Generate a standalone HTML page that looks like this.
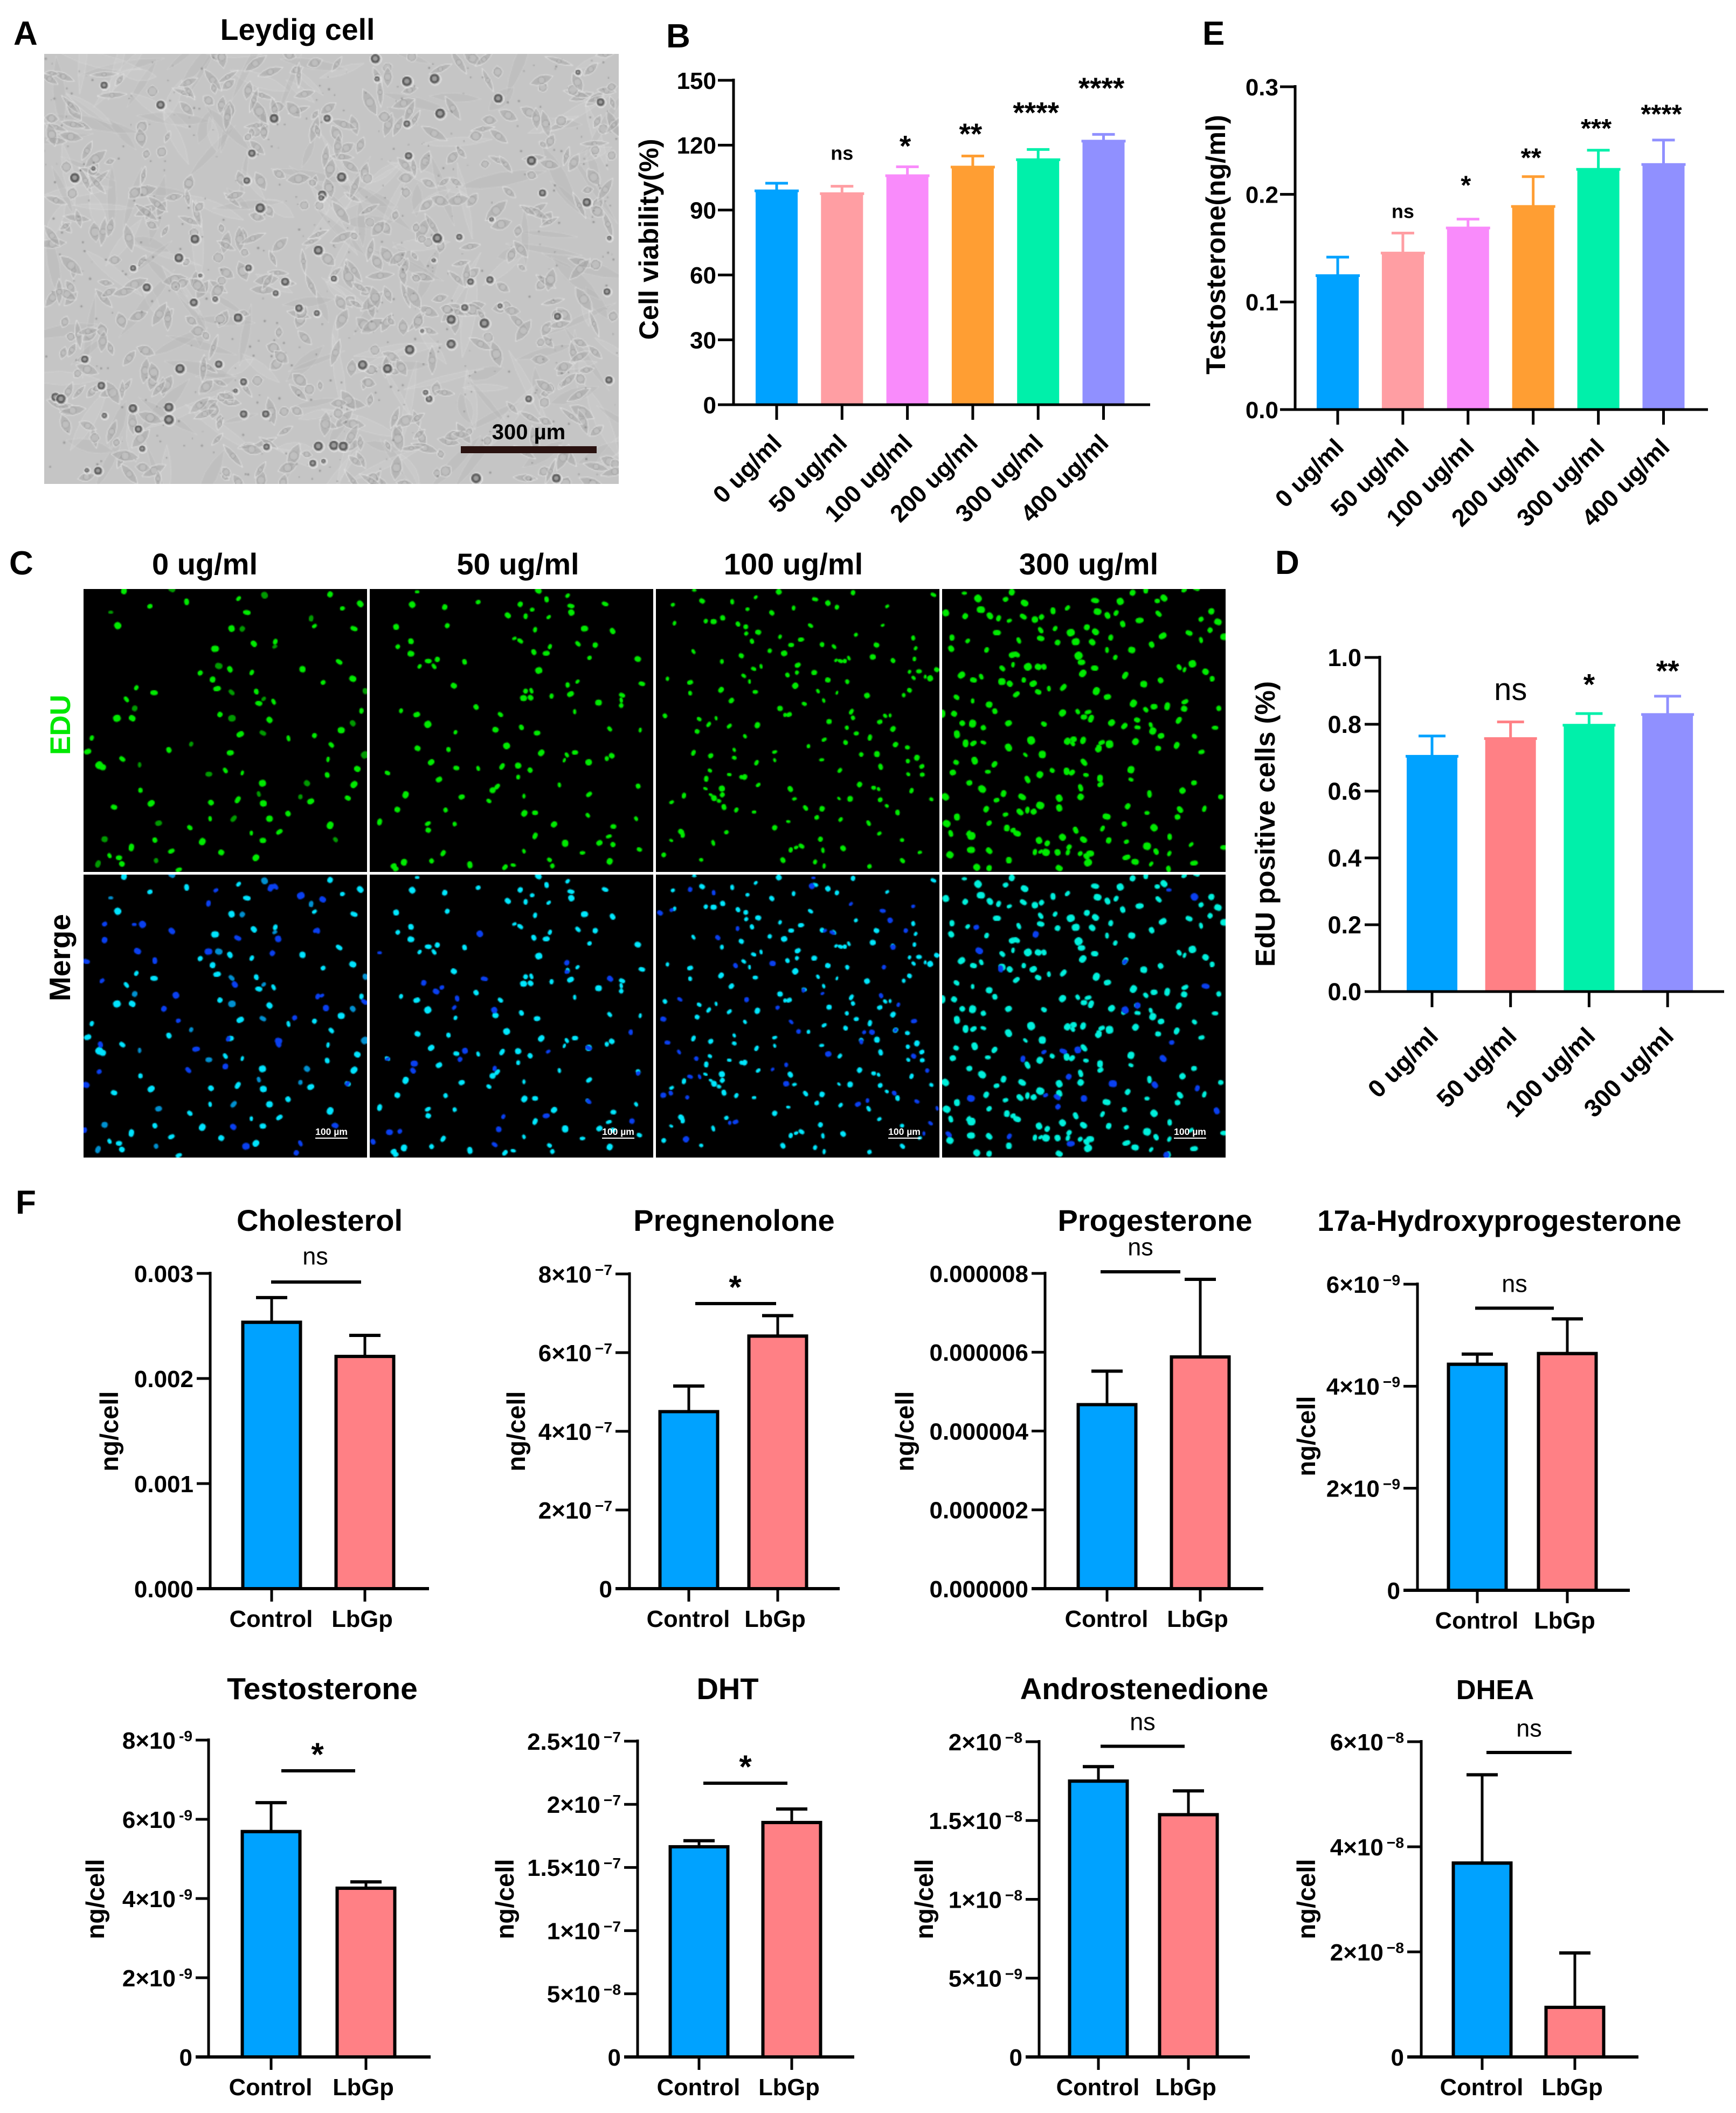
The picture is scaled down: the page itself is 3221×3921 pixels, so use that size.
<!DOCTYPE html>
<html lang="en">
<head>
<meta charset="utf-8">
<title>Leydig cell figure</title>
<style>
html,body{margin:0;padding:0;background:#fff;}
#page{position:relative;width:3221px;height:3921px;overflow:hidden;background:#fff;}
canvas{position:absolute;display:block;}
canvas.fl{width:526px;height:525px;}
svg{position:absolute;left:0;top:0;}
text{font-family:"Liberation Sans",Arial,sans-serif;font-weight:700;fill:#000;}
</style>
</head>
<body>
<div id="page">
<canvas id="micrograph" style="left:82px;top:100px;width:1066px;height:798px" width="533" height="399"></canvas>
<canvas class="fl" id="edu0" style="left:155px;top:1093px" width="263" height="263"></canvas>
<canvas class="fl" id="edu1" style="left:686px;top:1093px" width="263" height="263"></canvas>
<canvas class="fl" id="edu2" style="left:1217px;top:1093px" width="263" height="263"></canvas>
<canvas class="fl" id="edu3" style="left:1748px;top:1093px" width="263" height="263"></canvas>
<canvas class="fl" id="mer0" style="left:155px;top:1623px" width="263" height="263"></canvas>
<canvas class="fl" id="mer1" style="left:686px;top:1623px" width="263" height="263"></canvas>
<canvas class="fl" id="mer2" style="left:1217px;top:1623px" width="263" height="263"></canvas>
<canvas class="fl" id="mer3" style="left:1748px;top:1623px" width="263" height="263"></canvas>
<svg id="chart" width="3221" height="3921" viewBox="0 0 3221 3921" xmlns="http://www.w3.org/2000/svg">
  <g font-size="62">
    <text x="25" y="83">A</text>
    <text x="1236" y="88">B</text>
    <text x="17" y="1066">C</text>
    <text x="2366" y="1065">D</text>
    <text x="2231" y="83">E</text>
    <text x="29" y="2252">F</text>
  </g>
  <text x="552" y="74" font-size="55.5" text-anchor="middle">Leydig cell</text>
  <rect x="855" y="828" width="252" height="13" fill="#2a1210"/>
  <text x="981" y="815" font-size="40" text-anchor="middle">300 µm</text>
  <g font-size="56" text-anchor="middle">
    <text x="380" y="1066">0 ug/ml</text>
    <text x="961" y="1066">50 ug/ml</text>
    <text x="1472" y="1066">100 ug/ml</text>
    <text x="2020" y="1066">300 ug/ml</text>
  </g>
  <text transform="translate(130,1345) rotate(-90)" font-size="53" text-anchor="middle" style="fill:#00e800">EDU</text>
  <text transform="translate(130,1777) rotate(-90)" font-size="55" text-anchor="middle">Merge</text>
  <g fill="#fff">
    <rect x="585" y="2111" width="60" height="2"/>
    <rect x="1117" y="2111" width="60" height="2"/>
    <rect x="1648" y="2111" width="60" height="2"/>
    <rect x="2178" y="2111" width="60" height="2"/>
  </g>
  <g font-size="17.5" text-anchor="middle">
    <text x="615" y="2106" style="fill:#fff">100 µm</text>
    <text x="1147" y="2106" style="fill:#fff">100 µm</text>
    <text x="1678" y="2106" style="fill:#fff">100 µm</text>
    <text x="2208" y="2106" style="fill:#fff">100 µm</text>
  </g>
</svg>
</div>
<script>
/* ---------- chart data ---------- */
const doseCategories = ['0 ug/ml','50 ug/ml','100 ug/ml','200 ug/ml','300 ug/ml','400 ug/ml'];
const doseColors = ['#00a2ff','#ff9ea3','#f98bfb','#ff9e33','#00f0aa','#9090ff'];

const viabilityMeans = [99, 97.7, 106, 110, 113.4, 122];
const viabilityUpper = [102.4, 101, 110, 115, 118, 125];
const viabilityTicks = [0, 30, 60, 90, 120, 150];
const viabilityTickLabels = ['0','30','60','90','120','150'];
const viabilitySig = ['', 'ns', '*', '**', '****', '****'];
const viabilitySigLevels = [0, 115.6, 121.6, 127.2, 137, 148.3];

const testoDoseMeans = [0.1247, 0.1457, 0.169, 0.189, 0.2235, 0.228];
const testoDoseUpper = [0.1417, 0.164, 0.177, 0.2165, 0.241, 0.2505];
const testoDoseTicks = [0, 0.1, 0.2, 0.3];
const testoDoseTickLabels = ['0.0','0.1','0.2','0.3'];
const testoDoseSig = ['', 'ns', '*', '**', '***', '****'];
const testoDoseSigLevels = [0, 0.1828, 0.2118, 0.2373, 0.2646, 0.278];

const eduCategories = ['0 ug/ml','50 ug/ml','100 ug/ml','300 ug/ml'];
const eduColors = ['#00a2ff','#ff8085','#00f0aa','#9090ff'];
const eduMeans = [0.705, 0.758, 0.798, 0.83];
const eduUpper = [0.765, 0.807, 0.832, 0.884];
const eduTicks = [0, 0.2, 0.4, 0.6, 0.8, 1.0];
const eduTickLabels = ['0.0','0.2','0.4','0.6','0.8','1.0'];
const eduSig = ['', 'ns', '*', '**'];
const eduSigLevels = [0, 0.897, 0.932, 0.9726];

const groupCategories = ['Control','LbGp'];
const groupColors = ['#00a2ff','#ff8085'];

const cholesterolMeans = [0.002535, 0.00221];
const cholesterolUpper = [0.00277, 0.00241];
const cholesterolTicks = [0, 0.001, 0.002, 0.003];
const cholesterolTickLabels = ['0.000','0.001','0.002','0.003'];

const pregnenoloneMeans = [4.5e-7, 6.42e-7];
const pregnenoloneUpper = [5.15e-7, 6.94e-7];
const pregnenoloneTicks = [0, 2e-7, 4e-7, 6e-7, 8e-7];
const pregnenoloneTickLabels = ['0','2×10^−7','4×10^−7','6×10^−7','8×10^−7'];

const progesteroneMeans = [4.67e-6, 5.88e-6];
const progesteroneUpper = [5.52e-6, 7.85e-6];
const progesteroneTicks = [0, 2e-6, 4e-6, 6e-6, 8e-6];
const progesteroneTickLabels = ['0.000000','0.000002','0.000004','0.000006','0.000008'];

const hydroxyMeans = [4.43e-9, 4.64e-9];
const hydroxyUpper = [4.63e-9, 5.32e-9];
const hydroxyTicks = [0, 2e-9, 4e-9, 6e-9];
const hydroxyTickLabels = ['0','2×10^−9','4×10^−9','6×10^−9'];

const testosteroneMeans = [5.69e-9, 4.26e-9];
const testosteroneUpper = [6.42e-9, 4.42e-9];
const testosteroneTicks = [0, 2e-9, 4e-9, 6e-9, 8e-9];
const testosteroneTickLabels = ['0','2×10^-9','4×10^-9','6×10^-9','8×10^-9'];

const dhtMeans = [1.664e-7, 1.856e-7];
const dhtUpper = [1.712e-7, 1.963e-7];
const dhtTicks = [0, 5e-8, 1e-7, 1.5e-7, 2e-7, 2.5e-7];
const dhtTickLabels = ['0','5×10^−8','1×10^−7','1.5×10^−7','2×10^−7','2.5×10^−7'];

const androMeans = [1.75e-8, 1.537e-8];
const androUpper = [1.842e-8, 1.688e-8];
const androTicks = [0, 5e-9, 1e-8, 1.5e-8, 2e-8];
const androTickLabels = ['0','5×10^−9','1×10^−8','1.5×10^−8','2×10^−8'];

const dheaMeans = [3.69e-8, 0.944e-8];
const dheaUpper = [5.37e-8, 1.98e-8];
const dheaTicks = [0, 2e-8, 4e-8, 6e-8];
const dheaTickLabels = ['0','2×10^−8','4×10^−8','6×10^−8'];

/* ---------- svg helpers ---------- */
const svg = document.getElementById('chart');
const NS = 'http://www.w3.org/2000/svg';
function mk(parent, tag, attrs, name) {
  const el = document.createElementNS(NS, tag);
  for (const k in attrs) el.setAttribute(k, attrs[k]);
  
  
  parent.appendChild(el);
  return el;
}
function tickText(parent, x, y, label, fs, name) {
  const t = mk(parent, 'text', {x: x, y: y + fs * 0.36, 'font-size': fs, 'text-anchor': 'end'}, name);
  const parts = label.split('^');
  t.appendChild(document.createTextNode(parts[0]));
  if (parts[1]) {
    const s = document.createElementNS(NS, 'tspan');
    s.setAttribute('font-size', fs * 0.64);
    s.setAttribute('dx', 6);
    s.setAttribute('dy', -fs * 0.32);
    s.textContent = parts[1];
    t.appendChild(s);
  }
}
function sigText(parent, x, yc, str, fs, weight, name) {
  const isStar = str.indexOf('*') >= 0;
  const base = isStar ? yc + fs * 0.48 : yc + fs * 0.26;
  const t = mk(parent, 'text', {x: x, y: base, 'font-size': fs, 'text-anchor': 'middle'}, name);
  t.style.fontWeight = weight;
  t.textContent = str;
}
function drawChart(c) {
  const g = mk(svg, 'g', {}, 'chart-' + c.id);
  const maxV = c.ticks[c.ticks.length - 1];
  const yOf = v => c.y0 - (v / maxV) * (c.y0 - c.yTop);
  const xOf = i => c.c0 + i * c.step;
  c.means.forEach((m, i) => {
    const col = c.colors[i], x = xOf(i), yM = yOf(m), yE = yOf(c.upper[i]);
    const stroke = c.outlined ? '#000' : col;
    mk(g, 'line', {x1: x, x2: x, y1: yM, y2: yE, stroke: stroke, 'stroke-width': 5}, 'error-stem-' + c.id + '-' + i);
    mk(g, 'line', {x1: x - c.capW / 2, x2: x + c.capW / 2, y1: yE, y2: yE, stroke: stroke, 'stroke-width': c.outlined ? 6 : 5}, 'error-cap-' + c.id + '-' + i);
    if (c.outlined) {
      mk(g, 'rect', {x: x - c.barW / 2 + 3, y: yM, width: c.barW - 6, height: c.y0 - yM, fill: col, stroke: '#000', 'stroke-width': 6}, 'bar-' + c.id + '-' + i);
      mk(g, 'rect', {x: x - c.barW / 2, y: yM - 3, width: c.barW, height: 6, fill: '#000'}, 'bar-top-' + c.id + '-' + i);
    } else {
      mk(g, 'rect', {x: x - c.barW / 2, y: yM, width: c.barW, height: c.y0 - yM, fill: col}, 'bar-' + c.id + '-' + i);
      mk(g, 'rect', {x: x - c.barW / 2 - 2, y: yM - 2, width: c.barW + 4, height: 5, fill: col}, 'bar-top-' + c.id + '-' + i);
    }
  });
  mk(g, 'line', {x1: c.left, x2: c.left, y1: c.yTop - 3, y2: c.y0 + 2, stroke: '#000', 'stroke-width': c.axisW}, 'y-axis-' + c.id);
  c.ticks.forEach((v, i) => {
    const y = yOf(v);
    mk(g, 'line', {x1: c.tickLeft, x2: c.left, y1: y, y2: y, stroke: '#000', 'stroke-width': c.tickW}, 'y-tick-' + c.id + '-' + i);
    tickText(g, c.tickLeft - c.labelGap, y, c.tickLabels[i], c.fs, 'y-tick-label-' + c.id + '-' + i);
  });
  mk(g, 'line', {x1: c.outlined ? c.tickLeft : c.left, x2: c.right, y1: c.y0, y2: c.y0, stroke: '#000', 'stroke-width': c.xAxisW}, 'x-axis-' + c.id);
  c.cats.forEach((lab, i) => {
    const x = xOf(i);
    mk(g, 'line', {x1: x, x2: x, y1: c.y0, y2: c.y0 + c.xTick, stroke: '#000', 'stroke-width': c.tickW}, 'x-tick-' + c.id + '-' + i);
    let t;
    if (c.rotated) {
      t = mk(g, 'text', {'font-size': c.xFs, 'text-anchor': 'end', transform: 'translate(' + (x + c.rotDx) + ',' + (c.y0 + c.rotDy) + ') rotate(-45)'}, 'x-tick-label-' + c.id + '-' + i);
    } else {
      t = mk(g, 'text', {x: x - 1 - i * 4, y: c.y0 + 71, 'font-size': c.xFs, 'text-anchor': 'middle'}, 'x-tick-label-' + c.id + '-' + i);
    }
    t.textContent = lab;
  });
  const yl = mk(g, 'text', {'font-size': c.ylFs, 'text-anchor': 'middle', transform: 'translate(' + c.ylX + ',' + c.ylY + ') rotate(-90)'}, 'y-axis-title-' + c.id);
  yl.textContent = c.ylabel;
  if (c.sig) {
    c.sig.forEach((s, i) => {
      if (!s) return;
      const star = s.indexOf('*') >= 0;
      sigText(g, xOf(i) + (star ? c.sigDx : 0), yOf(c.sigLevels[i]), s, star ? c.starFs : c.nsFs, c.nsWeight && !star ? c.nsWeight : 700, 'significance-' + c.id + '-' + i);
    });
  }
  if (c.title) {
    const t = mk(g, 'text', {x: c.titleX, y: c.titleY, 'font-size': c.titleFs || 56, 'text-anchor': 'middle'}, 'title-' + c.id);
    t.textContent = c.title;
    mk(g, 'line', {x1: c.brX1, x2: c.brX2, y1: c.brY, y2: c.brY, stroke: '#000', 'stroke-width': 6}, 'significance-bracket-' + c.id);
    const star = c.brSig.indexOf('*') >= 0;
    sigText(g, c.brSigX, c.brSigY, c.brSig, star ? 60 : 45, star ? 700 : 400, 'significance-label-' + c.id);
  }
}

const doseStyle = {outlined: false, axisW: 5, xAxisW: 5, tickW: 5, xTick: 28, fs: 44, xFs: 45, rotated: true, labelGap: 3, sigDx: -4};
drawChart(Object.assign({}, doseStyle, {
  id: 'cell-viability', cats: doseCategories, colors: doseColors, means: viabilityMeans, upper: viabilityUpper,
  ticks: viabilityTicks, tickLabels: viabilityTickLabels, sig: viabilitySig, sigLevels: viabilitySigLevels,
  left: 1361, tickLeft: 1332, right: 2134, yTop: 149, y0: 751, c0: 1441, step: 121.3, barW: 78, capW: 42,
  rotDx: 12, rotDy: 74, ylabel: 'Cell viability(%)', ylX: 1221, ylY: 444, ylFs: 50.5, starFs: 55, nsFs: 36
}));
drawChart(Object.assign({}, doseStyle, {
  id: 'testosterone-dose', cats: doseCategories, colors: doseColors, means: testoDoseMeans, upper: testoDoseUpper,
  ticks: testoDoseTicks, tickLabels: testoDoseTickLabels, sig: testoDoseSig, sigLevels: testoDoseSigLevels,
  left: 2403, tickLeft: 2375, right: 3169, yTop: 161, y0: 760, c0: 2482, step: 120.9, barW: 78, capW: 42,
  rotDx: 14, rotDy: 73, ylabel: 'Testosterone(ng/ml)', ylX: 2273, ylY: 454, ylFs: 50.5, starFs: 49, nsFs: 36
}));
drawChart(Object.assign({}, doseStyle, {
  id: 'edu-positive', cats: eduCategories, colors: eduColors, means: eduMeans, upper: eduUpper,
  ticks: eduTicks, tickLabels: eduTickLabels, sig: eduSig, sigLevels: eduSigLevels,
  left: 2560, tickLeft: 2532, right: 3199, yTop: 1220, y0: 1840, c0: 2657, step: 145.7, barW: 94, capW: 50,
  rotDx: 14, rotDy: 86, xTick: 29, xFs: 46, fs: 45, labelGap: 6, ylabel: 'EdU positive cells (%)', ylX: 2365, ylY: 1529, ylFs: 51,
  starFs: 55, nsFs: 58, nsWeight: 400, sigDx: 0
}));

const groupStyle = {outlined: true, cats: groupCategories, colors: groupColors, axisW: 5, xAxisW: 6, tickW: 5, xTick: 24, fs: 44, xFs: 43.5, rotated: false, labelGap: 6, barW: 113, capW: 58, ylabel: 'ng/cell', ylFs: 47, titleY: 2284};
const row2 = {titleY: 3153};
drawChart(Object.assign({}, groupStyle, {
  id: 'cholesterol', title: 'Cholesterol', titleX: 593, means: cholesterolMeans, upper: cholesterolUpper, ticks: cholesterolTicks, tickLabels: cholesterolTickLabels,
  left: 390, tickLeft: 365, right: 796, yTop: 2363, y0: 2948, c0: 504, step: 173, ylX: 219, ylY: 2656,
  brX1: 503, brX2: 670, brY: 2379, brSig: 'ns', brSigX: 585, brSigY: 2335
}));
drawChart(Object.assign({}, groupStyle, {
  id: 'pregnenolone', title: 'Pregnenolone', titleX: 1362, means: pregnenoloneMeans, upper: pregnenoloneUpper, ticks: pregnenoloneTicks, tickLabels: pregnenoloneTickLabels,
  left: 1168, tickLeft: 1142, right: 1558, yTop: 2364, y0: 2948, c0: 1278, step: 165, ylX: 974, ylY: 2656,
  brX1: 1290, brX2: 1440, brY: 2419, brSig: '*', brSigX: 1364, brSigY: 2380
}));
drawChart(Object.assign({}, groupStyle, {
  id: 'progesterone', title: 'Progesterone', titleX: 2143, means: progesteroneMeans, upper: progesteroneUpper, ticks: progesteroneTicks, tickLabels: progesteroneTickLabels,
  left: 1939, tickLeft: 1914, right: 2344, yTop: 2363, y0: 2948, c0: 2054, step: 173, ylX: 1695, ylY: 2656,
  brX1: 2042, brX2: 2190, brY: 2360, brSig: 'ns', brSigX: 2116, brSigY: 2318
}));
drawChart(Object.assign({}, groupStyle, {
  id: '17a-hydroxyprogesterone', title: '17a-Hydroxyprogesterone', titleX: 2782, titleFs: 54.5, means: hydroxyMeans, upper: hydroxyUpper, ticks: hydroxyTicks, tickLabels: hydroxyTickLabels,
  left: 2630, tickLeft: 2604, right: 3024, yTop: 2383, y0: 2951, c0: 2741, step: 167, ylX: 2440, ylY: 2665,
  brX1: 2737, brX2: 2883, brY: 2427.5, brSig: 'ns', brSigX: 2810, brSigY: 2386
}));
drawChart(Object.assign({}, groupStyle, row2, {
  id: 'testosterone', title: 'Testosterone', titleX: 598, titleFs: 57, means: testosteroneMeans, upper: testosteroneUpper, ticks: testosteroneTicks, tickLabels: testosteroneTickLabels,
  left: 387, tickLeft: 363, right: 799, yTop: 3229, y0: 3817, c0: 503, step: 176, ylX: 193, ylY: 3524,
  brX1: 522, brX2: 659, brY: 3286, brSig: '*', brSigX: 589, brSigY: 3247
}));
drawChart(Object.assign({}, groupStyle, row2, {
  id: 'dht', title: 'DHT', titleX: 1350, means: dhtMeans, upper: dhtUpper, ticks: dhtTicks, tickLabels: dhtTickLabels,
  left: 1183, tickLeft: 1158, right: 1585, yTop: 3231, y0: 3817, c0: 1297, step: 172, ylX: 953, ylY: 3524,
  brX1: 1305, brX2: 1461, brY: 3309, brSig: '*', brSigX: 1383, brSigY: 3270
}));
drawChart(Object.assign({}, groupStyle, row2, {
  id: 'androstenedione', title: 'Androstenedione', titleX: 2123, means: androMeans, upper: androUpper, ticks: androTicks, tickLabels: androTickLabels,
  left: 1928, tickLeft: 1903, right: 2319, yTop: 3232, y0: 3817, c0: 2038, step: 167, ylX: 1731, ylY: 3524,
  brX1: 2042, brX2: 2198, brY: 3240.5, brSig: 'ns', brSigX: 2120, brSigY: 3199
}));
drawChart(Object.assign({}, groupStyle, row2, {
  id: 'dhea', title: 'DHEA', titleX: 2774, titleFs: 51, means: dheaMeans, upper: dheaUpper, ticks: dheaTicks, tickLabels: dheaTickLabels,
  left: 2637, tickLeft: 2611, right: 3040, yTop: 3232, y0: 3817, c0: 2750, step: 172, ylX: 2440, ylY: 3524,
  brX1: 2758, brX2: 2916, brY: 3252, brSig: 'ns', brSigX: 2837, brSigY: 3211
}));

/* ---------- fluorescence images ---------- */
const nuclei = [
 "268,178 285,211 300,127 363,164 416,122 452,153 578,145 598,179 641,137 800,135 830,169 873,158 754,193 762,212 858,218 561,218 587,219 521,267 615,255 667,250 666,262 822,299 733,317 485,326 530,309 557,317 610,325 526,364 561,373 515,342 783,349 855,340 885,370 330,362 373,374 306,390 326,412 283,436 320,436 621,371 639,389 627,400 663,396 533,427 562,436 653,440 876,418 582,475 637,472 699,485 762,478 827,465 855,448 222,484 212,517 296,535 338,549 240,550 248,555 409,513 463,499 558,520 803,501 795,536 884,525 866,559 793,574 858,597 506,572 546,563 587,569 636,594 744,594 340,611 366,643 276,652 627,620 576,634 638,643 511,641 728,627 753,638 843,630 509,680 566,680 653,680 698,668 800,696 384,691 460,702 609,715 677,712 253,730 375,732 490,736 637,733 813,731 318,750 415,759 536,762 378,782 620,775 288,775 265,770 237,790 433,804 295,790",
 "1012,129 1000,160 1079,166 1160,154 1306,126 1326,147 1377,138 1385,163 1386,179 1262,159 1291,172 1232,186 1275,188 1331,190 1468,158 961,214 1085,211 1418,218 1486,224 1298,221 1248,242 1262,248 997,249 965,262 997,279 1295,275 1334,262 1325,278 1402,255 1444,258 1430,289 1547,292 1127,299 1018,310 1039,297 1053,310 1061,293 1307,320 1101,357 1377,355 1401,347 1557,352 1289,369 1275,370 1270,387 1287,386 1338,382 1384,377 1509,380 1507,392 1507,405 1452,398 1155,409 973,418 1011,427 1214,427 1394,420 1038,451 1202,464 1265,458 1105,470 1303,472 1479,462 1553,465 1229,503 1013,509 1088,512 1313,520 1395,519 1375,525 1369,538 1428,543 1484,527 1472,534 1046,543 1107,557 1160,558 1218,553 1257,551 1286,562 1257,579 1065,585 940,569 1357,598 1206,602 1195,611 1548,601 984,622 1120,627 1186,637 1271,625 1429,621 964,658 1081,659 1272,667 1298,666 1426,672 921,688 1038,692 1039,708 1103,693 1344,694 1488,699 1543,680 1298,722 1477,723 1487,743 1371,740 1454,739 1551,755 1271,759 1075,764 1413,763 1047,783 980,786 955,795 1333,780 1140,792 1225,798 1245,793 1340,795 1479,784 960,802",
 "115,125 320,129 500,131 63,160 134,151 207,153 264,142 408,147 439,156 461,166 244,171 303,180 356,168 583,164 695,136 184,192 143,200 162,201 221,207 67,205 572,210 397,211 240,214 241,230 270,227 255,249 323,238 374,245 454,262 425,257 507,233 557,258 646,241 652,266 350,258 113,274 298,272 333,278 229,284 182,298 459,295 470,297 490,290 480,297 548,287 597,296 649,292 366,307 259,316 277,310 364,325 406,325 341,331 50,340 105,349 235,333 249,347 360,357 439,343 486,347 637,323 660,322 647,338 675,335 687,339 703,318 105,375 180,367 263,372 415,370 461,374 534,381 637,368 623,380 205,393 382,401 429,393 496,420 323,412 44,430 335,428 345,427 127,438 168,436 150,451 442,444 500,435 268,453 565,445 578,430 590,429 200,455 122,468 485,459 597,462 508,473 238,480 541,483 430,488 482,495 392,504 603,500 632,507 212,513 113,520 310,518 520,524 558,523 155,527 212,532 310,538 266,544 424,537 633,540 655,532 667,553 153,563 567,554 468,563 200,573 229,579 237,579 668,573 634,572 144,583 270,598 142,607 182,607 516,597 550,605 562,608 90,624 60,640 155,622 163,630 183,622 175,637 348,608 642,612 358,632 466,631 493,632 566,634 690,633 187,652 217,659 260,664 385,654 425,656 412,677 582,649 608,665 470,682 343,687 538,691 310,702 193,713 83,712 87,720 564,716 59,733 161,739 421,730 619,732 476,752 349,756 362,750 375,747 427,757 41,768 132,780 330,781 408,785 662,762 620,782 430,795 540,796",
 "770,132 803,145 885,130 870,147 916,156 985,175 1020,168 1087,150 1148,152 1178,131 1238,151 1254,144 1210,125 1303,125 1332,120 725,180 772,188 810,172 832,187 853,193 879,199 913,189 941,196 957,190 1093,177 1117,186 1138,180 1195,198 1241,182 1369,176 1344,195 1385,202 1154,207 990,218 849,228 955,222 1067,215 1028,228 1088,226 740,240 778,248 955,242 902,247 996,252 1040,250 1080,251 1125,240 1251,236 1315,229 1344,246 1366,222 1400,238 738,267 824,270 887,282 897,281 1116,270 1047,284 1176,270 1224,257 1136,288 1054,300 862,315 888,306 924,311 949,311 963,311 1057,327 1086,314 1291,312 1304,318 1323,304 1355,323 1371,340 763,331 792,343 811,335 1160,332 861,347 880,352 914,343 937,352 949,372 975,364 1010,361 1205,353 1246,344 1090,370 1117,384 751,385 790,394 896,378 830,403 844,419 1180,400 1230,408 1210,415 1262,407 1305,396 1303,413 1387,412 1008,423 1060,433 1045,420 1077,437 1070,421 745,425 715,425 1127,447 1189,440 1222,452 1290,441 1378,459 765,448 790,449 877,448 963,450 752,475 1158,455 1190,458 816,459 1227,467 1247,479 1328,480 773,497 792,497 816,495 932,490 1020,492 1035,487 1033,498 1058,490 1103,495 1097,505 1122,499 1185,493 1240,509 877,507 1285,502 1345,518 918,525 959,524 1095,511 750,543 795,539 843,548 827,566 1060,543 1174,561 742,568 983,563 1018,565 1031,568 1065,574 923,585 953,573 782,593 813,608 1099,582 1100,597 1174,585 1052,605 1052,627 1327,593 724,627 865,619 848,635 910,627 1219,620 1299,612 1392,627 1000,630 823,657 870,670 905,664 923,659 938,663 954,648 1000,654 1166,650 1213,666 1293,658 1352,656 1287,676 727,692 752,676 830,691 1115,675 1040,708 1105,704 1158,693 1230,702 873,703 888,708 898,716 737,716 780,715 787,722 1008,725 1120,733 1163,736 1059,731 1268,724 1320,743 1213,747 951,733 971,740 786,756 830,758 941,761 955,760 968,762 996,762 1024,749 1075,765 1066,772 1021,762 1163,774 735,768 878,781 1051,765 1184,785 1235,760 1267,765 1327,788 800,798 830,800 1070,787 1000,800 1265,802 1223,790 1400,750"
];
const blueOnly = [
 "325,935 345,935 253,973 253,934 333,1000 375,1023 247,1072 208,1025 426,1107 397,1140 432,1169 416,951 505,884 523,852 576,968 674,970 660,1005 505,1001 569,1081 770,1110 780,1108 883,1123 790,1138 714,1162 675,1218 675,1226 553,1213 475,1238 456,1289 546,1280 240,1293 208,1325 243,1227 842,1322 660,843 668,843 655,848 729,865 782,874 770,950 764,950 812,1424 728,1467 718,1490 596,1474 565,1427 205,1435",
 "921,1004 1164,958 1028,1077 1072,1088 1058,1098 1109,1115 1102,1137 1175,1067 1199,1143 1375,1028 1375,1050 1480,1067 1530,1197 1330,1244 1428,1235 1128,1242 1116,1263 1005,1273 1002,1290 1200,1285 940,1262 1200,1470 1210,1433 970,1438 945,1440 905,1463 1221,1402 1325,1400 1428,1365 1533,1413 1548,1297",
 "404,822 400,842 105,850 60,900 32,907 162,858 495,885 572,902 590,925 628,950 646,891 172,967 220,945 432,950 450,955 597,990 575,1039 305,1030 215,1035 380,1095 426,1103 80,1117 242,1118 317,1137 40,1165 568,1108 610,1130 648,1170 350,1172 368,1195 527,1197 546,1197 520,1220 603,1192 50,1222 78,1245 120,1261 440,1250 647,1255 338,1276 305,1287 105,1305 128,1305 680,1290 338,1322 600,1345 535,1363 512,1372 655,1365 704,1382 98,1355 40,1350 58,1345 201,1417 215,1415 688,1418 672,1443 95,1457",
 "1266,851 1328,868 943,959 799,942 806,999 858,1043 1159,1026 1355,1085 1160,1143 1190,1132 1273,1222 1252,1261 912,1262 963,1245 1010,1243 1045,1240 1023,1305 1130,1322 1232,1325 1335,1333 967,1350 995,1355 1060,1358 997,1378 786,1358 1382,1388 879,1450 1028,1468 732,1445 1260,1495"
];
const originX = [202, 897, 22, 716];
const nucleusRadius = [5.4, 5, 4.4, 5.7];
const mergeColors = ['#00e4ff', '#00e8ff', '#00e8ff', '#00f0dc'];
const SCALE = 0.765;
function parsePts(s) { return s.split(' ').map(p => p.split(',').map(Number)); }
function blob(ctx, x, y, i, r, color) {
  const rx = r * (0.9 + ((i * 37) % 10) / 20);
  const ry = rx * (0.62 + ((i * 13) % 7) / 18);
  ctx.fillStyle = color;
  ctx.beginPath();
  ctx.ellipse(x, y, rx, ry, ((i * 53) % 180) * Math.PI / 180, 0, Math.PI * 2);
  ctx.fill();
}
nuclei.forEach((str, p) => {
  const pts = parsePts(str);
  const edu = document.getElementById('edu' + p).getContext('2d');
  const mer = document.getElementById('mer' + p).getContext('2d');
  [edu, mer].forEach(c => { c.scale(0.5, 0.5); c.fillStyle = '#000'; c.fillRect(0, 0, 526, 526); });
  pts.forEach((q, i) => {
    const x = (q[0] - originX[p]) * SCALE, y = (q[1] - 122) * SCALE;
    const dim = p === 0 && i % 4 === 0;
    blob(edu, x, y, i, nucleusRadius[p], dim ? '#009a00' : '#00ea00');
    blob(mer, x, y, i, nucleusRadius[p], dim ? '#0090d0' : mergeColors[p]);
  });
  parsePts(blueOnly[p]).forEach((q, i) => {
    const x = (q[0] - originX[p]) * SCALE, y = (q[1] - 814) * SCALE;
    blob(mer, x, y, i, nucleusRadius[p], '#0a40f0');
  });
});

/* ---------- phase-contrast micrograph texture ---------- */
const roundCells = "135,470 290,277 188,225 495,313 735,327 795,300 738,412 617,468 582,515 470,550 352,632 790,630 575,662 323,682 265,760 350,800 430,840 540,815 815,845 875,855 740,925 815,910 153,950 325,975 395,963 183,1020 305,1077 240,1080 440,1095 480,1095 575,1180 603,1178 565,1225 700,975 655,965 775,1055 860,1265 177,1245 1005,1265 850,745 885,740 515,745 955,1055 1100,1005 1060,535 980,510 960,425 455,405 1085,270 900,260 785,208 678,155 735,215 100,1050 110,1055 250,1135 305,1110 620,1180";
(function () {
  const cv = document.getElementById('micrograph');
  const c = cv.getContext('2d');
  c.scale(0.5, 0.5);
  const W = 1066, H = 798;
  let s = 20240611;
  function rnd() { s = (s * 1664525 + 1013904223) >>> 0; return ((s >>> 8) % 100000) / 100000; }
  c.fillStyle = '#c5c5c5';
  c.fillRect(0, 0, W, H);
  for (let i = 0; i < 200; i++) {
    const x = rnd() * W, y = rnd() * H, a = rnd() * Math.PI, L = 30 + rnd() * 55, w = 10 + rnd() * 18;
    c.save(); c.translate(x, y); c.rotate(a);
    c.fillStyle = 'rgba(' + (rnd() < .5 ? '212,212,212' : '178,178,178') + ',.3)';
    c.beginPath(); c.moveTo(-L, 0); c.quadraticCurveTo(0, -w, L, 0); c.quadraticCurveTo(0, w, -L, 0); c.fill();
    c.strokeStyle = 'rgba(230,230,230,.35)'; c.lineWidth = 1.4; c.stroke();
    c.restore();
  }
  for (let i = 0; i < 560; i++) {
    const x = rnd() * W, y = rnd() * H, a = rnd() * Math.PI, L = 9 + rnd() * 19, w = 6 + rnd() * 8;
    c.save(); c.translate(x, y); c.rotate(a);
    c.fillStyle = 'rgba(165,165,165,.5)';
    c.beginPath(); c.moveTo(-L, 0); c.quadraticCurveTo(0, -w * 1.6, L, 0); c.quadraticCurveTo(0, w * 1.6, -L, 0); c.fill();
    c.strokeStyle = 'rgba(238,238,238,.7)'; c.lineWidth = 1.6; c.stroke();
    c.strokeStyle = 'rgba(100,100,100,.5)'; c.lineWidth = 1.1;
    c.beginPath(); c.arc(0, 0, w * .55, 0, Math.PI * 2); c.stroke();
    c.fillStyle = 'rgba(195,195,195,.7)'; c.fill();
    c.restore();
  }
  function roundCell(x, y, r) {
    c.strokeStyle = 'rgba(238,238,238,.9)'; c.lineWidth = 2;
    c.beginPath(); c.arc(x + 1, y + 1, r + 2.2, 0, Math.PI * 2); c.stroke();
    c.fillStyle = 'rgba(85,85,85,.95)';
    c.beginPath(); c.arc(x, y, r, 0, Math.PI * 2); c.fill();
    c.fillStyle = 'rgba(160,160,160,.95)';
    c.beginPath(); c.arc(x, y, r * .55, 0, Math.PI * 2); c.fill();
  }
  parsePts(roundCells).forEach(q => roundCell(q[0] * 1.027 - 82, q[1] * 0.7015 - 100, 6 + rnd() * 3));
  for (let i = 0; i < 30; i++) roundCell(rnd() * W, rnd() * H, 3.5 + rnd() * 3);
  for (let i = 0; i < 420; i++) {
    c.fillStyle = 'rgba(90,90,90,.45)';
    c.beginPath(); c.arc(rnd() * W, rnd() * H, .8 + rnd() * 1.4, 0, Math.PI * 2); c.fill();
  }
})();
</script>
</body>
</html>
